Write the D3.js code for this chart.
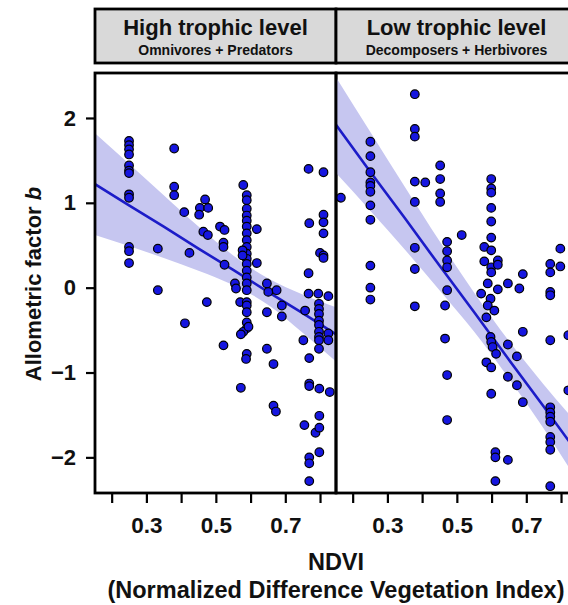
<!DOCTYPE html>
<html>
<head>
<meta charset="utf-8">
<script src="https://cdn.jsdelivr.net/npm/d3@7"></script>
<style>
  html, body { margin: 0; padding: 0; background: #fff; }
  svg { display: block; font-family: "Liberation Sans", Arial, sans-serif; }
</style>
</head>
<body>
<svg id="chart" width="568" height="605"></svg>
<script>
// Facet labels
const panelTitles = ["High trophic level", "Low trophic level"];
const panelSubtitles = ["Omnivores + Predators", "Decomposers + Herbivores"];

// Axis ticks
const ndviTicks = [0.2, 0.3, 0.4, 0.5, 0.6, 0.7, 0.8];
const ndviLabelled = [0.3, 0.5, 0.7];
const bTicks = [-2, -1, 0, 1, 2];

// High trophic level observations (NDVI, allometric factor b)
const highNdvi = [
  0.25,0.25,0.25,0.25,0.25,0.25,0.25,0.25,0.25,0.25,0.25,0.25,
  0.333,0.333,
  0.38,0.38,0.38,
  0.409,0.411,0.424,
  0.454,0.452,0.469,0.478,0.464,0.477,0.474,
  0.512,0.525,0.522,0.522,0.525,0.522,
  0.555,0.558,0.57,
  0.579,
  0.589,0.589,0.589,0.589,0.589,0.589,0.589,0.589,0.589,0.589,0.589,
  0.589,0.589,0.589,0.589,0.589,0.589,0.589,0.589,0.589,0.589,0.589,
  0.587,0.577,0.577,0.579,0.572,0.594,0.572,
  0.618,0.618,
  0.647,0.651,0.675,0.647,0.69,0.69,0.647,0.666,0.666,0.673,
  0.767,0.81,0.769,0.81,0.81,0.81,0.80,0.81,0.81,0.767,
  0.767,0.795,0.824,0.757,
  0.797,0.797,0.797,0.797,0.797,0.797,0.797,0.797,0.797,
  0.824,0.824,0.752,
  0.769,0.769,0.769,
  0.798,0.828,0.798,0.755,0.787,0.798,0.798,0.769,0.769,0.769
];
const highB = [
  1.73,1.68,1.63,1.57,1.44,1.38,1.35,1.10,1.06,0.48,0.43,0.29,
  0.46,-0.03,
  1.64,1.19,1.09,
  0.89,-0.42,0.41,
  0.94,0.86,1.04,0.94,0.66,0.62,-0.17,
  0.72,0.68,0.53,0.48,0.27,-0.68,
  0.05,-0.01,-0.17,
  1.21,
  1.09,1.03,0.93,0.85,0.79,0.72,0.64,0.56,0.48,0.40,0.34,
  0.28,0.20,0.12,0.05,-0.03,-0.17,-0.21,-0.29,-0.41,-0.48,-0.78,
  -0.84,0.44,0.38,-0.52,-0.55,-0.46,-1.18,
  0.69,0.29,
  0.05,-0.05,-0.03,-0.29,-0.21,-0.34,-0.72,-0.90,-1.39,-1.46,
  1.40,1.36,0.76,0.86,0.77,0.64,0.41,0.38,0.35,0.17,
  -0.07,-0.07,-0.10,-0.27,
  -0.19,-0.25,-0.31,-0.39,-0.44,-0.52,-0.58,-0.62,-0.72,
  -0.54,-0.62,-0.62,
  -0.83,-1.13,-1.16,
  -1.19,-1.23,-1.51,-1.62,-1.71,-1.65,-1.94,-2.00,-2.07,-2.28
];

// Low trophic level observations (NDVI, allometric factor b)
const lowNdvi = [
  0.166,
  0.251,0.251,0.251,0.251,0.251,0.251,0.251,0.251,0.251,0.251,0.251,
  0.379,0.379,0.379,0.379,0.379,0.379,0.379,0.379,
  0.409,
  0.452,0.452,0.452,0.452,
  0.472,0.472,0.472,0.472,0.472,0.472,0.472,0.466,0.466,
  0.514,
  0.599,0.599,0.599,0.599,0.599,0.599,
  0.579,0.579,0.599,0.599,0.599,
  0.589,0.57,0.597,0.589,0.608,0.585,0.597,0.599,0.603,0.613,0.585,0.599,0.599,
  0.618,0.618,0.618,
  0.647,0.68,0.69,
  0.69,0.647,0.673,0.647,0.673,0.69,
  0.611,0.611,0.611,0.647,
  0.769,0.769,0.769,0.769,0.769,0.769,0.769,0.769,0.769,0.769,0.769,0.769,0.769,
  0.798,0.798,
  0.821,0.821
];
const lowB = [
  1.06,
  1.72,1.55,1.36,1.24,1.20,1.13,0.97,0.80,0.26,0.00,-0.14,
  2.28,1.87,1.78,1.25,1.01,0.47,0.22,-0.22,
  1.24,
  1.44,1.28,1.11,1.01,
  0.54,0.43,0.32,0.24,-0.03,-1.03,-1.56,-0.21,-0.60,
  0.62,
  1.28,1.17,1.12,0.94,0.78,0.59,
  0.48,0.31,0.44,0.24,0.18,
  0.05,-0.07,-0.13,-0.21,-0.27,-0.35,-0.58,-0.64,-0.70,-0.78,-0.88,-0.94,-1.25,
  0.32,0.27,-0.02,
  0.05,-0.01,0.16,
  -0.52,-0.67,-0.81,-1.05,-1.15,-1.35,
  -1.94,-2.00,-2.28,-2.03,
  0.28,0.18,-0.05,-0.09,-0.62,-1.41,-1.47,-1.52,-1.58,-1.76,-1.82,-1.91,-2.34,
  0.25,0.46,
  -0.56,-1.21
];

// Linear fits with 95% confidence band
const fitNdvi   = [0.152, 0.25, 0.35, 0.45, 0.55, 0.65, 0.75, 0.846];
const highFit   = [1.22, 0.97, 0.72, 0.46, 0.21, -0.05, -0.30, -0.55];
const highLower = [0.62, 0.49, 0.35, 0.20, 0.03, -0.20, -0.53, -0.87];
const highUpper = [1.82, 1.46, 1.09, 0.72, 0.38, 0.11, -0.08, -0.23];
const lowFit    = [1.92, 1.37, 0.82, 0.26, -0.29, -0.85, -1.40, -1.94];
const lowLower  = [1.35, 0.91, 0.45, -0.03, -0.52, -1.07, -1.66, -2.27];
const lowUpper  = [2.48, 1.84, 1.19, 0.55, -0.06, -0.63, -1.14, -1.60];

const panels = [
  { ndvi: highNdvi, b: highB, fit: highFit, lower: highLower, upper: highUpper },
  { ndvi: lowNdvi,  b: lowB,  fit: lowFit,  lower: lowLower,  upper: lowUpper }
];

const svg = d3.select("#chart");
const panelLeft = 95, panelW = 241, panelTop = 73, panelBottom = 493;
const stripTop = 9, stripBottom = 63;

const x = d3.scaleLinear().domain([0.152, 0.846]).range([0, panelW]);
const y = d3.scaleLinear().domain([-2.42, 2.53]).range([panelBottom, panelTop]);

const pointFill = "#1616e0", lineColor = "#1c1cc8", bandColor = "#c6c6f0";
const ink = "#111";

const defs = svg.append("defs");

panels.forEach((p, i) => {
  const x0 = panelLeft + i * panelW;
  const g = svg.append("g").attr("transform", `translate(${x0},0)`);

  defs.append("clipPath").attr("id", "clip" + i)
    .append("rect").attr("x", 0).attr("y", panelTop).attr("width", panelW).attr("height", panelBottom - panelTop);

  const fitRows = fitNdvi.map((n, k) => ({ n, f: p.fit[k], lo: p.lower[k], hi: p.upper[k] }));

  const inner = g.append("g").attr("clip-path", `url(#clip${i})`);
  inner.append("path")
    .datum(fitRows)
    .attr("fill", bandColor)
    .attr("d", d3.area().x(d => x(d.n)).y0(d => y(d.lo)).y1(d => y(d.hi)).curve(d3.curveMonotoneX));

  g.append("g").selectAll("circle")
    .data(p.ndvi.map((n, k) => ({ n, b: p.b[k] })))
    .join("circle")
    .attr("cx", d => x(d.n))
    .attr("cy", d => y(d.b))
    .attr("r", 4.3)
    .attr("fill", pointFill)
    .attr("stroke", "#000")
    .attr("stroke-width", 1.2);

  inner.append("path")
    .datum(fitRows)
    .attr("fill", "none")
    .attr("stroke", lineColor)
    .attr("stroke-width", 2.6)
    .attr("d", d3.line().x(d => x(d.n)).y(d => y(d.f)));

  // panel frame
  g.append("rect")
    .attr("x", 0).attr("y", panelTop)
    .attr("width", panelW).attr("height", panelBottom - panelTop)
    .attr("fill", "none").attr("stroke", "#000").attr("stroke-width", 2.8);

  // strip
  g.append("rect")
    .attr("x", 0).attr("y", stripTop)
    .attr("width", panelW).attr("height", stripBottom - stripTop)
    .attr("fill", "#d9d9d9").attr("stroke", "#000").attr("stroke-width", 2.8);
  g.append("text")
    .attr("x", panelW / 2).attr("y", 35)
    .attr("text-anchor", "middle")
    .attr("font-size", 22).attr("font-weight", "bold").attr("fill", ink)
    .text(panelTitles[i]);
  g.append("text")
    .attr("x", panelW / 2).attr("y", 55)
    .attr("text-anchor", "middle")
    .attr("font-size", 14).attr("font-weight", "bold").attr("fill", ink)
    .text(panelSubtitles[i]);

  // x axis
  const xAxis = d3.axisBottom(x)
    .tickValues(ndviTicks)
    .tickSize(10)
    .tickPadding(14)
    .tickFormat(v => ndviLabelled.some(l => Math.abs(l - v) < 1e-9) ? d3.format(".1f")(v) : "");
  const ax = g.append("g").attr("transform", `translate(0,${panelBottom})`).call(xAxis);
  ax.select(".domain").remove();
  ax.selectAll(".tick line").attr("stroke", "#000").attr("stroke-width", 2.2);
  ax.selectAll(".tick text")
    .attr("font-size", 22.5).attr("font-weight", "bold").attr("fill", ink)
    .attr("font-family", "Liberation Sans, Arial, sans-serif");
});

// y axis
const yAxis = d3.axisLeft(y).tickValues(bTicks).tickSize(9).tickPadding(10).tickFormat(d3.format("d"));
const ay = svg.append("g").attr("transform", `translate(${panelLeft},0)`).call(yAxis);
ay.select(".domain").remove();
ay.selectAll(".tick line").attr("stroke", "#000").attr("stroke-width", 2.2);
ay.selectAll(".tick text")
  .attr("font-size", 22).attr("font-weight", "bold").attr("fill", ink)
  .attr("font-family", "Liberation Sans, Arial, sans-serif");

// axis titles
const yTitle = svg.append("text")
  .attr("transform", "translate(41,284) rotate(-90)")
  .attr("text-anchor", "middle")
  .attr("font-size", 22).attr("font-weight", "bold").attr("fill", ink);
yTitle.append("tspan").text("Allometric factor ");
yTitle.append("tspan").attr("font-style", "italic").text("b");

svg.append("text")
  .attr("x", 336).attr("y", 570)
  .attr("text-anchor", "middle")
  .attr("font-size", 23.5).attr("font-weight", "bold").attr("fill", ink)
  .text("NDVI");
svg.append("text")
  .attr("x", 336).attr("y", 598)
  .attr("text-anchor", "middle")
  .attr("font-size", 23.5).attr("font-weight", "bold").attr("fill", ink)
  .text("(Normalized Difference Vegetation Index)");
</script>
</body>
</html>
